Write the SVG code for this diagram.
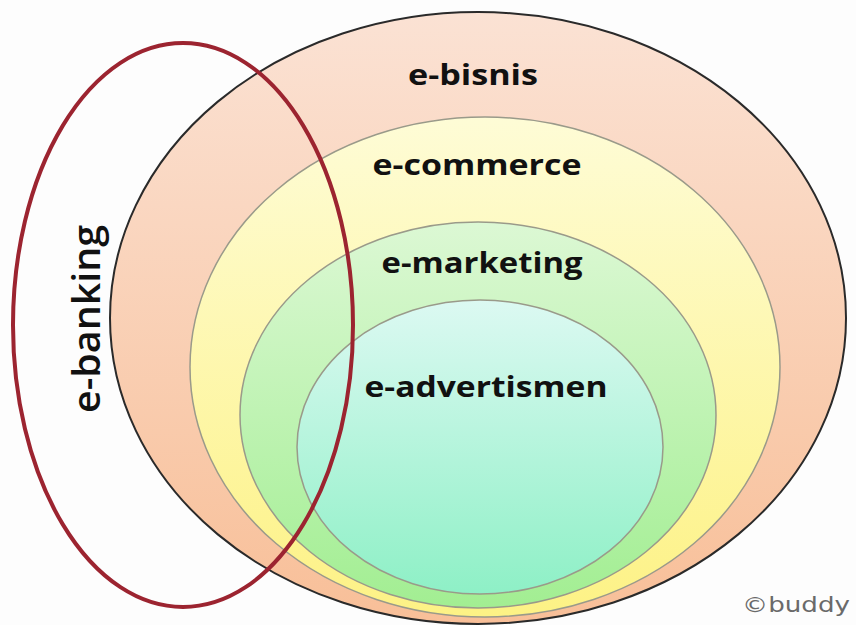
<svg xmlns="http://www.w3.org/2000/svg" width="856" height="625" viewBox="0 0 856 625">
<style>
.lbl{font-family:"Open Sans","Liberation Sans",sans-serif;font-weight:700;font-size:29px;fill:#111;text-anchor:middle}
.inner{stroke:#9a9a8a;stroke-width:1.5}
</style>
<defs>
<linearGradient id="gBis" x1="0" y1="0" x2="0" y2="1"><stop offset="0" stop-color="#fbe2d4"/><stop offset="1" stop-color="#f8bf98"/></linearGradient>
<linearGradient id="gCom" x1="0" y1="0" x2="0" y2="1"><stop offset="0" stop-color="#fefcd6"/><stop offset="1" stop-color="#fdf285"/></linearGradient>
<linearGradient id="gMar" x1="0" y1="0" x2="0" y2="1"><stop offset="0" stop-color="#dcf8d4"/><stop offset="1" stop-color="#a2ee92"/></linearGradient>
<linearGradient id="gAdv" x1="0" y1="0" x2="0" y2="1"><stop offset="0" stop-color="#dcf9f2"/><stop offset="1" stop-color="#8ef0c6"/></linearGradient>
</defs>
<rect width="856" height="625" fill="#fdfdfd"/>
<g id="e-bisnis">
<ellipse cx="478" cy="318" rx="368" ry="306" fill="url(#gBis)" stroke="#2a2a2a" stroke-width="2"/>
<text class="lbl" x="473" y="85" textLength="130" lengthAdjust="spacingAndGlyphs">e-bisnis</text>
</g>
<g id="e-commerce">
<ellipse cx="485" cy="367" rx="295" ry="250" fill="url(#gCom)" class="inner"/>
<text class="lbl" x="477" y="175" textLength="209" lengthAdjust="spacingAndGlyphs">e-commerce</text>
</g>
<g id="e-marketing">
<ellipse cx="478" cy="415" rx="238" ry="193" fill="url(#gMar)" class="inner"/>
<text class="lbl" x="482" y="273" textLength="201" lengthAdjust="spacingAndGlyphs">e-marketing</text>
</g>
<g id="e-advertismen">
<ellipse cx="480" cy="447" rx="183" ry="147" fill="url(#gAdv)" class="inner"/>
<text class="lbl" x="486" y="397" textLength="243" lengthAdjust="spacingAndGlyphs">e-advertismen</text>
</g>
<g id="e-banking">
<ellipse cx="183" cy="325" rx="170" ry="282" fill="none" stroke="#9c2430" stroke-width="4"/>
<text x="0" y="0" transform="translate(100,319) rotate(-90)" font-family="'Open Sans','Liberation Sans',sans-serif" font-weight="600" font-size="38" fill="#111" text-anchor="middle" textLength="188" lengthAdjust="spacingAndGlyphs">e-banking</text>
</g>
<g id="connectors"/>
<text x="742" y="612" font-family="'DejaVu Sans',sans-serif" font-size="21" fill="#6a6a6a" textLength="108" lengthAdjust="spacingAndGlyphs">©buddy</text>
</svg>
